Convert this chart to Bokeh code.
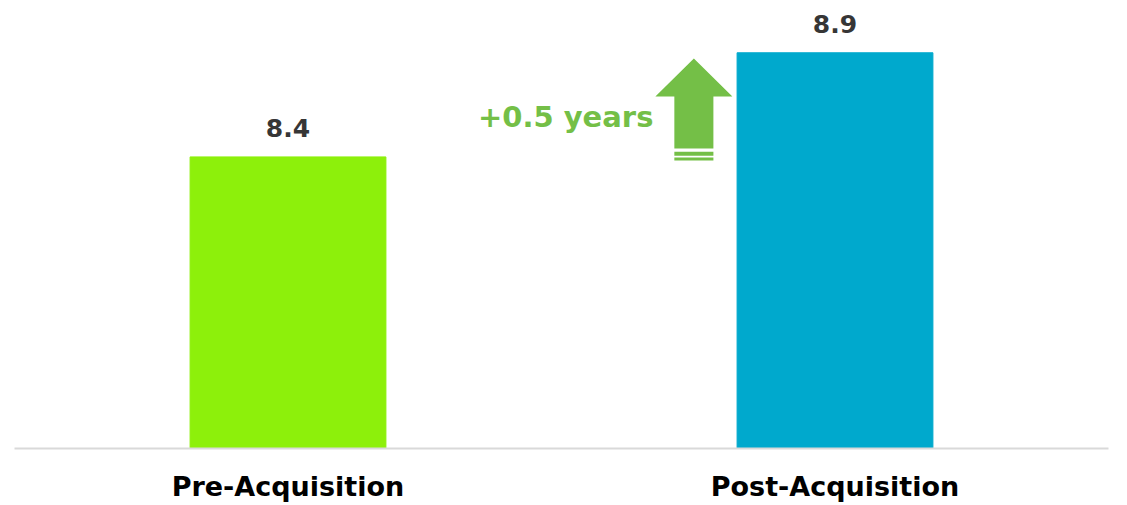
from bokeh.plotting import figure
from bokeh.models import FactorRange, Range1d, ColumnDataSource
from bokeh.core.properties import value
from bokeh.embed import file_html
from bokeh.resources import INLINE

categories = ["Pre-Acquisition", "Post-Acquisition"]
values = [8.4, 8.9]
bar_colors = ["#8DF00B", "#00A9CD"]
value_labels = ["8.4", "8.9"]

diff = values[1] - values[0]
annot_text = f"+{diff:.1f} years"

FONT = "DejaVu Sans"
GREEN = "#74BF47"

p = figure(width=1127, height=505, output_backend="svg", toolbar_location=None,
           x_range=FactorRange(*categories, range_padding=0),
           y_range=Range1d(7.0, 9.151),
           min_border_left=14, min_border_right=19, min_border_top=0, min_border_bottom=57)
p.outline_line_color = None
p.grid.visible = False
p.yaxis.visible = False
p.background_fill_color = "white"
p.border_fill_color = "white"

src = ColumnDataSource(dict(cat=categories, val=values, color=bar_colors, lab=value_labels))
p.vbar(x="cat", top="val", bottom=7.0, width=0.358, color="color", source=src)
p.text(x="cat", y="val", text="lab", source=src, text_align="center", text_baseline="alphabetic",
       y_offset=-29, text_font=value(FONT), text_font_style="bold", text_font_size="25px",
       text_color="#363636")

xa = p.xaxis[0]
xa.axis_line_color = "#D9D9D9"
xa.axis_line_width = 2
xa.major_tick_line_color = None
xa.minor_tick_line_color = None
xa.major_label_text_font = FONT
xa.major_label_text_font_style = "bold"
xa.major_label_text_font_size = "27px"
xa.major_label_text_color = "#000000"
xa.major_label_standoff = 16

# arrow derived from the two values
cx = 1.5 - 0.258
hw_head = 0.0704
hw_shaft = 0.0357
tip = values[1] - 0.027
head_base = values[1] - 0.21
shaft_bottom = values[0] + 0.04
ax = [cx, cx + hw_head, cx + hw_shaft, cx + hw_shaft, cx - hw_shaft, cx - hw_shaft, cx - hw_head]
ay = [tip, head_base, head_base, shaft_bottom, shaft_bottom, head_base, head_base]
p.patch(ax, ay, color=GREEN, line_width=0)
p.quad(left=[cx - hw_shaft] * 2, right=[cx + hw_shaft] * 2,
       top=[values[0] + 0.025, values[0] - 0.003], bottom=[values[0] + 0.006, values[0] - 0.017],
       color=GREEN, line_width=0)

p.text(x=[1.168], y=[values[0] + 0.19], text=[annot_text], text_align="right", text_baseline="middle",
       text_font=value(FONT), text_font_style="bold", text_font_size="29px", text_color=GREEN)

open("out.html", "w").write(file_html(p, INLINE))
